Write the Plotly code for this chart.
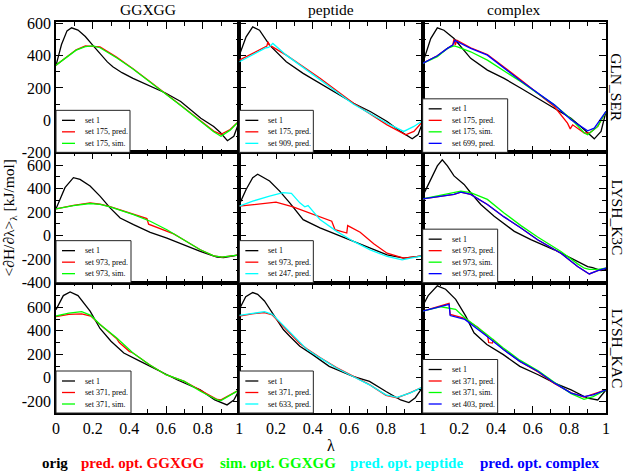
import plotly.graph_objects as go
from plotly.subplots import make_subplots

FONT = "Liberation Serif"
BLACK, RED, GREEN, CYAN, BLUE = "#000000", "#ff0000", "#00ff00", "#00ffff", "#0000ff"

column_titles = ["GGXGG", "peptide", "complex"]
row_titles = ["GLN_SER", "LYSH_K3C", "LYSH_KAC"]
bottom_labels = ["orig", "pred. opt. GGXGG", "sim. opt. GGXGG", "pred. opt. peptide", "pred. opt. complex"]
bottom_colors = [BLACK, RED, GREEN, CYAN, BLUE]
bottom_xpos = [40, 79, 218, 348, 478]  # left edge of each label, px

x_ticks = [0, 0.2, 0.4, 0.6, 0.8, 1]
x_ticklabels = ["0", "0.2", "0.4", "0.6", "0.8", "1"]
x_minor = [0.1, 0.3, 0.5, 0.7, 0.9]
y_ranges = [[-200, 610], [-400, 710], [-300, 810]]
y_ticks = [[-200, 0, 200, 400, 600], [-400, -200, 0, 200, 400, 600], [-200, 0, 200, 400, 600]]
y_minor = [[-100, 100, 300, 500], [-300, -100, 100, 300, 500, 700], [-100, 100, 300, 500, 700]]

# ---- GLN_SER ----
gln_gg_orig_lam = [0, 0.03, 0.06, 0.085, 0.12, 0.16, 0.2, 0.24, 0.28, 0.31, 0.36, 0.42, 0.51, 0.6, 0.68, 0.79, 0.86, 0.895, 0.935, 0.97, 1.0]
gln_gg_orig = [340, 470, 555, 574, 560, 520, 466, 415, 362, 332, 295, 260, 215, 167, 116, 12, -39, -75, -128, -100, -8]
gln_gg_pred_lam = [0, 0.06, 0.11, 0.16, 0.2, 0.24, 0.33, 0.42, 0.51, 0.6, 0.68, 0.79, 0.86, 0.9, 0.95, 1.0]
gln_gg_pred = [342, 396, 437, 462, 460, 455, 392, 320, 242, 165, 93, -5, -68, -88, -58, -4]
gln_gg_sim_lam = [0, 0.06, 0.11, 0.16, 0.2, 0.24, 0.33, 0.42, 0.51, 0.6, 0.68, 0.79, 0.86, 0.9, 0.95, 1.0]
gln_gg_sim = [342, 394, 435, 457, 462, 450, 388, 318, 240, 163, 91, -8, -72, -100, -62, -4]

gln_pep_orig_lam = [0, 0.037, 0.073, 0.11, 0.165, 0.256, 0.348, 0.44, 0.531, 0.623, 0.714, 0.806, 0.879, 0.943, 0.975, 1.0]
gln_pep_orig = [404, 518, 580, 559, 466, 363, 291, 229, 167, 105, 54, -8, -70, -116, -90, -15]
gln_pep_pred_lam = [0, 0.073, 0.128, 0.15, 0.156, 0.165, 0.256, 0.44, 0.623, 0.806, 0.907, 0.952, 1.0]
gln_pep_pred = [373, 415, 450, 460, 487, 466, 404, 260, 105, -29, -91, -70, -8]
gln_pep_opt_lam = [0, 0.073, 0.146, 0.16, 0.183, 0.256, 0.44, 0.623, 0.806, 0.897, 0.952, 1.0]
gln_pep_opt = [363, 404, 450, 452, 477, 404, 250, 99, -19, -70, -39, -4]

gln_cx_orig_lam = [0, 0.044, 0.08, 0.116, 0.171, 0.262, 0.353, 0.444, 0.536, 0.627, 0.718, 0.809, 0.882, 0.936, 0.973, 1.0]
gln_cx_orig = [353, 507, 574, 559, 507, 384, 311, 260, 198, 136, 74, 12, -60, -116, -70, 54]
gln_cx_pred_lam = [0, 0.08, 0.135, 0.164, 0.171, 0.178, 0.186, 0.262, 0.353, 0.536, 0.718, 0.79, 0.805, 0.818, 0.882, 0.91, 0.955, 1.0]
gln_cx_pred = [353, 400, 446, 466, 503, 466, 497, 450, 408, 250, 85, -19, -54, -29, -80, -80, -39, 54]
gln_cx_sim_lam = [0, 0.08, 0.135, 0.171, 0.19, 0.262, 0.353, 0.536, 0.718, 0.809, 0.882, 0.9, 0.955, 1.0]
gln_cx_sim = [353, 394, 446, 462, 456, 425, 373, 239, 95, 8, -80, -91, -39, 54]
gln_cx_opt_lam = [0, 0.08, 0.135, 0.164, 0.175, 0.262, 0.353, 0.536, 0.718, 0.809, 0.9, 0.936, 1.0]
gln_cx_opt = [353, 400, 446, 466, 495, 446, 404, 243, 95, 2, -66, -50, 54]

# ---- LYSH_K3C ----
k3c_gg_orig_lam = [0, 0.022, 0.049, 0.095, 0.131, 0.186, 0.24, 0.295, 0.35, 0.423, 0.514, 0.605, 0.696, 0.787, 0.878, 0.914, 1.0]
k3c_gg_orig = [229, 309, 409, 494, 480, 423, 337, 237, 151, 94, 29, -20, -77, -134, -183, -186, -163]
k3c_gg_pred_lam = [0, 0.095, 0.186, 0.24, 0.295, 0.423, 0.496, 0.505, 0.569, 0.642, 0.696, 0.787, 0.86, 0.905, 1.0]
k3c_gg_pred = [229, 259, 280, 268, 248, 182, 146, 98, 57, 16, -34, -120, -171, -183, -163]
k3c_gg_sim_lam = [0, 0.095, 0.186, 0.24, 0.295, 0.423, 0.514, 0.605, 0.696, 0.787, 0.86, 0.905, 1.0]
k3c_gg_sim = [229, 257, 274, 266, 246, 180, 123, 51, -34, -120, -171, -183, -163]

k3c_pep_orig_lam = [0, 0.037, 0.073, 0.1, 0.165, 0.22, 0.275, 0.348, 0.44, 0.531, 0.623, 0.714, 0.806, 0.897, 1.0]
k3c_pep_orig = [266, 394, 494, 523, 466, 380, 280, 137, 66, 9, -49, -106, -163, -191, -171]
k3c_pep_pred_lam = [0, 0.11, 0.2, 0.293, 0.403, 0.476, 0.504, 0.522, 0.586, 0.591, 0.659, 0.733, 0.806, 0.897, 1.0]
k3c_pep_pred = [251, 271, 286, 246, 180, 137, 123, 51, 23, 86, 29, -69, -149, -191, -171]
k3c_pep_opt_lam = [0, 0.073, 0.165, 0.238, 0.284, 0.33, 0.357, 0.375, 0.44, 0.531, 0.623, 0.714, 0.806, 0.888, 0.934, 1.0]
k3c_pep_opt = [251, 294, 337, 366, 360, 280, 246, 257, 137, 37, -49, -120, -177, -206, -191, -171]

k3c_cx_orig_lam = [0, 0.044, 0.08, 0.107, 0.135, 0.171, 0.226, 0.262, 0.317, 0.39, 0.5, 0.59, 0.718, 0.809, 0.9, 0.927, 0.973, 1.0]
k3c_cx_orig = [337, 480, 594, 646, 594, 509, 437, 366, 266, 166, 37, -34, -120, -191, -263, -271, -297, -286]
k3c_cx_pred_lam = [0, 0.098, 0.171, 0.208, 0.262, 0.353, 0.444, 0.536, 0.627, 0.754, 0.845, 0.909, 0.955, 1.0]
k3c_cx_pred = [314, 337, 351, 371, 351, 266, 160, 65, -34, -149, -263, -326, -297, -277]
k3c_cx_sim_lam = [0, 0.098, 0.208, 0.262, 0.353, 0.444, 0.536, 0.627, 0.754, 0.845, 0.882, 0.909, 0.955, 1.0]
k3c_cx_sim = [314, 343, 380, 366, 309, 194, 86, -11, -134, -240, -277, -286, -286, -277]
k3c_cx_opt_lam = [0, 0.098, 0.171, 0.208, 0.262, 0.353, 0.444, 0.536, 0.627, 0.754, 0.845, 0.909, 0.955, 1.0]
k3c_cx_opt = [314, 337, 351, 371, 351, 266, 160, 65, -34, -149, -263, -326, -297, -277]

# ---- LYSH_KAC ----
kac_gg_orig_lam = [0, 0.04, 0.077, 0.12, 0.186, 0.24, 0.3, 0.37, 0.46, 0.57, 0.66, 0.787, 0.866, 0.933, 0.97, 1.0]
kac_gg_orig = [580, 700, 731, 700, 568, 420, 311, 211, 140, 54, -17, -103, -189, -231, -189, -103]
kac_gg_pred_lam = [0, 0.07, 0.14, 0.19, 0.24, 0.33, 0.345, 0.4, 0.42, 0.51, 0.6, 0.7, 0.79, 0.88, 0.9, 0.95, 1.0]
kac_gg_pred = [520, 540, 545, 525, 454, 335, 300, 225, 211, 111, 26, -31, -110, -185, -188, -146, -103]
kac_gg_sim_lam = [0, 0.07, 0.14, 0.19, 0.24, 0.33, 0.42, 0.51, 0.6, 0.7, 0.79, 0.88, 0.9, 0.95, 1.0]
kac_gg_sim = [526, 550, 563, 531, 454, 340, 211, 111, 26, -31, -117, -189, -194, -146, -103]

kac_pep_orig_lam = [0, 0.035, 0.073, 0.1, 0.137, 0.19, 0.24, 0.275, 0.33, 0.4, 0.49, 0.62, 0.71, 0.8, 0.88, 0.925, 0.96, 1.0]
kac_pep_orig = [583, 690, 726, 710, 654, 525, 411, 354, 269, 197, 97, 11, -31, -117, -189, -211, -170, -80]
kac_pep_pred_lam = [0, 0.07, 0.137, 0.18, 0.26, 0.33, 0.37, 0.44, 0.53, 0.62, 0.71, 0.8, 0.86, 0.93, 1.0]
kac_pep_pred = [526, 545, 555, 535, 405, 292, 245, 172, 86, 14, -58, -150, -170, -128, -80]
kac_pep_opt_lam = [0, 0.07, 0.137, 0.18, 0.26, 0.33, 0.37, 0.44, 0.53, 0.62, 0.71, 0.8, 0.86, 0.93, 1.0]
kac_pep_opt = [531, 550, 563, 540, 411, 297, 240, 169, 83, 11, -60, -146, -166, -130, -80]

kac_cx_orig_lam = [0, 0.03, 0.08, 0.125, 0.18, 0.235, 0.28, 0.35, 0.44, 0.53, 0.63, 0.72, 0.81, 0.9, 0.955, 1.0]
kac_cx_orig = [611, 700, 783, 754, 668, 525, 383, 283, 197, 97, 26, -46, -103, -174, -189, -103]
kac_cx_pred_lam = [0, 0.07, 0.144, 0.15, 0.22, 0.3, 0.355, 0.36, 0.38, 0.385, 0.44, 0.53, 0.63, 0.72, 0.81, 0.88, 0.93, 1.0]
kac_cx_pred = [568, 600, 634, 540, 511, 430, 350, 300, 295, 325, 242, 140, 50, -50, -128, -165, -140, -103]
kac_cx_sim_lam = [0, 0.1, 0.18, 0.23, 0.35, 0.44, 0.53, 0.63, 0.72, 0.81, 0.88, 0.93, 1.0]
kac_cx_sim = [568, 605, 583, 511, 369, 254, 150, 60, -40, -135, -183, -160, -103]
kac_cx_opt_lam = [0, 0.07, 0.144, 0.15, 0.2, 0.23, 0.35, 0.44, 0.53, 0.63, 0.72, 0.81, 0.88, 0.93, 1.0]
kac_cx_opt = [568, 595, 626, 530, 511, 497, 354, 240, 140, 54, -46, -131, -160, -145, -103]

# each panel: list of (lambda, dH/dl, colour, legend label) and legend box width in px
panels = [
    [
        ([(gln_gg_orig_lam, gln_gg_orig, BLACK, "set 1"), (gln_gg_pred_lam, gln_gg_pred, RED, "set 175, pred."),
          (gln_gg_sim_lam, gln_gg_sim, GREEN, "set 175, sim.")], 74),
        ([(gln_pep_orig_lam, gln_pep_orig, BLACK, "set 1"), (gln_pep_pred_lam, gln_pep_pred, RED, "set 175, pred."),
          (gln_pep_opt_lam, gln_pep_opt, CYAN, "set 909, pred.")], 74),
        ([(gln_cx_orig_lam, gln_cx_orig, BLACK, "set 1"), (gln_cx_pred_lam, gln_cx_pred, RED, "set 175, pred."),
          (gln_cx_sim_lam, gln_cx_sim, GREEN, "set 175, sim."), (gln_cx_opt_lam, gln_cx_opt, BLUE, "set 699, pred.")], 85),
    ],
    [
        ([(k3c_gg_orig_lam, k3c_gg_orig, BLACK, "set 1"), (k3c_gg_pred_lam, k3c_gg_pred, RED, "set 973, pred."),
          (k3c_gg_sim_lam, k3c_gg_sim, GREEN, "set 973, sim.")], 75),
        ([(k3c_pep_orig_lam, k3c_pep_orig, BLACK, "set 1"), (k3c_pep_pred_lam, k3c_pep_pred, RED, "set 973, pred."),
          (k3c_pep_opt_lam, k3c_pep_opt, CYAN, "set 247, pred.")], 74),
        ([(k3c_cx_orig_lam, k3c_cx_orig, BLACK, "set 1"), (k3c_cx_pred_lam, k3c_cx_pred, RED, "set 973, pred."),
          (k3c_cx_sim_lam, k3c_cx_sim, GREEN, "set 973, sim."), (k3c_cx_opt_lam, k3c_cx_opt, BLUE, "set 973, pred.")], 75),
    ],
    [
        ([(kac_gg_orig_lam, kac_gg_orig, BLACK, "set 1"), (kac_gg_pred_lam, kac_gg_pred, RED, "set 371, pred."),
          (kac_gg_sim_lam, kac_gg_sim, GREEN, "set 371, sim.")], 75),
        ([(kac_pep_orig_lam, kac_pep_orig, BLACK, "set 1"), (kac_pep_pred_lam, kac_pep_pred, RED, "set 371, pred."),
          (kac_pep_opt_lam, kac_pep_opt, CYAN, "set 633, pred.")], 74),
        ([(kac_cx_orig_lam, kac_cx_orig, BLACK, "set 1"), (kac_cx_pred_lam, kac_cx_pred, RED, "set 371, pred."),
          (kac_cx_sim_lam, kac_cx_sim, GREEN, "set 371, sim."), (kac_cx_opt_lam, kac_cx_opt, BLUE, "set 403, pred.")], 75),
    ],
]

W, H = 625, 472
ML, MR, MT, MB = 56, 19, 22, 59
PW = (W - ML - MR) / 3  # panel width in px
PH = (H - MT - MB) / 3  # panel height in px
plot_w = W - ML - MR
plot_h = H - MT - MB

fig = make_subplots(rows=3, cols=3, horizontal_spacing=0, vertical_spacing=0)


def add_panel_legend(idx, series, width_px):
    sfx = "" if idx == 1 else str(idx)
    xref, yref = f"x{sfx} domain", f"y{sfx} domain"
    n = len(series)
    height = 9 + (n - 1) * 11.5 + 10
    fig.add_shape(type="rect", xref=xref, yref=yref, x0=0, x1=width_px / PW, y0=0, y1=height / PH,
                  fillcolor="white", line={"color": "#222", "width": 1}, layer="above")
    for k, (_, _, color, label) in enumerate(series):
        yy = (9 + (n - 1 - k) * 11.5) / PH
        fig.add_shape(type="line", xref=xref, yref=yref, x0=6 / PW, x1=19 / PW, y0=yy, y1=yy,
                      line={"color": color, "width": 1.3}, layer="above")
        fig.add_annotation(xref=xref, yref=yref, x=27 / PW, y=yy, text=label, showarrow=False,
                           xanchor="left", yanchor="middle", font={"size": 8, "family": FONT, "color": "black"})


for r in range(3):
    for c in range(3):
        series, box_w = panels[r][c]
        for lam, vals, color, label in series:
            fig.add_trace(
                go.Scatter(x=lam, y=vals, mode="lines", line={"color": color, "width": 1.3},
                           name=label, showlegend=False),
                row=r + 1, col=c + 1,
            )
        add_panel_legend(r * 3 + c + 1, series, box_w)

        fig.update_xaxes(
            row=r + 1, col=c + 1, range=[0, 1], tickmode="array", tickvals=x_ticks,
            ticktext=[t if (c == 0 or t != "0") else " " for t in x_ticklabels],
            showticklabels=(r == 2),
            minor={"tickmode": "array", "tickvals": x_minor, "ticks": "inside", "ticklen": 4, "tickwidth": 1.3,
                   "tickcolor": "black", "showgrid": False},
        )
        fig.update_yaxes(
            row=r + 1, col=c + 1, range=y_ranges[r], tickmode="array", tickvals=y_ticks[r],
            ticktext=[str(v) for v in y_ticks[r]],
            showticklabels=(c == 0),
            minor={"tickmode": "array", "tickvals": y_minor[r], "ticks": "inside", "ticklen": 4, "tickwidth": 1.3,
                   "tickcolor": "black", "showgrid": False},
        )

fig.update_xaxes(showline=True, linecolor="black", linewidth=1.5, mirror="ticks", ticks="inside", ticklen=7,
                 tickwidth=1.3, tickcolor="black", showgrid=False, zeroline=False,
                 tickfont={"family": FONT, "size": 16, "color": "black"})
fig.update_yaxes(showline=True, linecolor="black", linewidth=1.5, mirror="ticks", ticks="inside", ticklen=7,
                 tickwidth=1.3, tickcolor="black", showgrid=False, zeroline=False,
                 tickfont={"family": FONT, "size": 16, "color": "black"})

# column titles
for c, title in enumerate(column_titles):
    fig.add_annotation(xref="paper", yref="paper", x=(c + 0.5) / 3, y=1 + 12 / plot_h, text=title,
                       showarrow=False, xanchor="center", yanchor="middle",
                       font={"family": FONT, "size": 15.5, "color": "black"})

# row titles on the right
for r, title in enumerate(row_titles):
    fig.add_annotation(xref="paper", yref="paper", x=1 + 11 / plot_w, y=1 - (r + 0.5) / 3, text=title,
                       showarrow=False, textangle=90, xanchor="center", yanchor="middle",
                       font={"family": FONT, "size": 15.5, "color": "black"})

# axis titles
fig.add_annotation(xref="paper", yref="paper", x=(9 - ML) / plot_w, y=0.5,
                   text="&lt;\u2202H/\u2202\u03bb&gt;<sub>\u03bb</sub> [kJ/mol]", showarrow=False, textangle=-90,
                   xanchor="center", yanchor="middle", font={"family": FONT, "size": 15.5, "color": "black"})
fig.add_annotation(xref="paper", yref="paper", x=(331 - ML) / plot_w, y=-32 / plot_h, text="\u03bb",
                   showarrow=False, xanchor="center", yanchor="middle",
                   font={"family": FONT, "size": 16, "color": "black"})

# colour key under the figure
for label, color, px in zip(bottom_labels, bottom_colors, bottom_xpos):
    fig.add_annotation(xref="paper", yref="paper", x=(px - ML) / plot_w, y=-50 / plot_h,
                       text=f"<b>{label}</b>", showarrow=False, xanchor="left", yanchor="middle",
                       font={"family": FONT, "size": 15, "color": color})

fig.update_layout(
    width=W, height=H,
    margin={"l": ML, "r": MR, "t": MT, "b": MB},
    paper_bgcolor="white", plot_bgcolor="white",
    showlegend=False,
    hovermode=False,
)

# drop the browser's default body margin so the figure sits at the page corner
fig.write_html("out.html", config={"displayModeBar": False},
               post_script="document.body.style.margin = '0';")
